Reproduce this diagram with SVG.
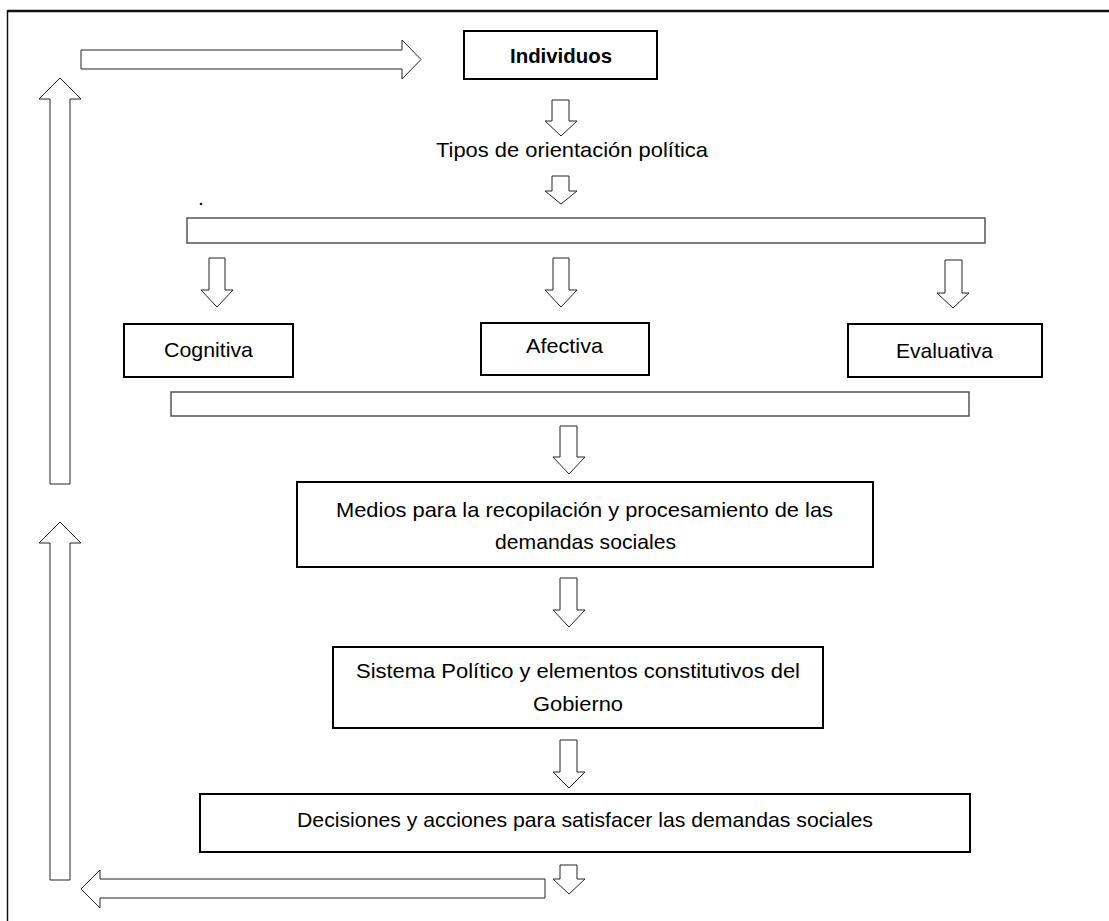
<svg xmlns="http://www.w3.org/2000/svg" width="1109" height="921" viewBox="0 0 1109 921">
  <style>
    .box { fill: #ffffff; stroke: #000000; stroke-width: 2; }
    .bar { fill: #ffffff; stroke: #555555; stroke-width: 1.5; }
    .arr { fill: #ffffff; stroke: #222222; stroke-width: 1; stroke-linejoin: miter; }
    .t { font-family: "Liberation Sans", Arial, sans-serif; font-size: 21px; fill: #000000; text-anchor: middle; }
    .b { font-weight: bold; }
  </style>
  <rect width="1109" height="921" fill="#ffffff"/>
  <g id="frame">
    <line x1="7.5" y1="11" x2="1109" y2="11" stroke="#111111" stroke-width="2.5"/>
    <line x1="7.5" y1="10" x2="7.5" y2="921" stroke="#111111" stroke-width="1.5"/>
  </g>
  <g id="connectors">
    <!-- top right-pointing arrow -->
    <polygon class="arr" points="81,50 402,50 402,40 421,59.5 402,79 402,69 81,69"/>
    <!-- left upward arrows -->
    <polygon class="arr" points="50,484 50,99 39,99 60,78 81,99 70,99 70,484"/>
    <polygon class="arr" points="50,880 50,543 39,543 60,522 81,543 70,543 70,880"/>
    <!-- bottom left-pointing arrow -->
    <polygon class="arr" points="545,879 100,879 100,870 81,889 100,908 100,898 545,898"/>
    <!-- down arrows -->
    <polygon class="arr" points="552,100 569,100 569,121 577,121 561,136 545,121 552,121"/>
    <polygon class="arr" points="552,176 569,176 569,191 577,191 561,204 545,191 552,191"/>
    <polygon class="arr" points="209,258 225,258 225,290 233,290 217,307 201,290 209,290"/>
    <polygon class="arr" points="553,258 569,258 569,290 577,290 561,307 545,290 553,290"/>
    <polygon class="arr" points="945,260 962,260 962,293 969,293 953,308 937,293 945,293"/>
    <polygon class="arr" points="560,426 577,426 577,457 585,457 569,474 553,457 560,457"/>
    <polygon class="arr" points="560,578 577,578 577,610 585,610 569,627 553,610 560,610"/>
    <polygon class="arr" points="560,740 577,740 577,772 585,772 569,788 553,772 560,772"/>
    <polygon class="arr" points="560,865 577,865 577,879 585,879 569,894 553,879 560,879"/>
  </g>
  <g id="individuos">
    <rect class="box" x="464" y="31" width="193" height="48"/>
    <text class="t b" x="561" y="63" textLength="102" lengthAdjust="spacingAndGlyphs">Individuos</text>
  </g>
  <g id="tipos">
    <text class="t" x="572" y="157" textLength="272" lengthAdjust="spacingAndGlyphs">Tipos de orientación política</text>
  </g>
  <g id="dot">
    <text class="t" x="201" y="205">.</text>
  </g>
  <g id="bar1">
    <rect class="bar" x="187" y="218" width="798" height="25"/>
  </g>
  <g id="cognitiva">
    <rect class="box" x="124" y="324" width="169" height="53"/>
    <text class="t" x="208.5" y="357" textLength="89" lengthAdjust="spacingAndGlyphs">Cognitiva</text>
  </g>
  <g id="afectiva">
    <rect class="box" x="481" y="323" width="168" height="52"/>
    <text class="t" x="564.5" y="353" textLength="77" lengthAdjust="spacingAndGlyphs">Afectiva</text>
  </g>
  <g id="evaluativa">
    <rect class="box" x="848" y="324" width="194" height="53"/>
    <text class="t" x="944.5" y="358" textLength="97" lengthAdjust="spacingAndGlyphs">Evaluativa</text>
  </g>
  <g id="bar2">
    <rect class="bar" x="171" y="392" width="798" height="24"/>
  </g>
  <g id="medios">
    <rect class="box" x="297" y="482" width="576" height="85"/>
    <text class="t" x="584.5" y="517" textLength="497" lengthAdjust="spacingAndGlyphs">Medios para la recopilación y procesamiento de las</text>
    <text class="t" x="585.5" y="549" textLength="181" lengthAdjust="spacingAndGlyphs">demandas sociales</text>
  </g>
  <g id="sistema">
    <rect class="box" x="333" y="647" width="490" height="81"/>
    <text class="t" x="578" y="678" textLength="444" lengthAdjust="spacingAndGlyphs">Sistema Político y elementos constitutivos del</text>
    <text class="t" x="578" y="711" textLength="90" lengthAdjust="spacingAndGlyphs">Gobierno</text>
  </g>
  <g id="decisiones">
    <rect class="box" x="200" y="794" width="770" height="58"/>
    <text class="t" x="585" y="827" textLength="576" lengthAdjust="spacingAndGlyphs">Decisiones y acciones para satisfacer las demandas sociales</text>
  </g>
</svg>
